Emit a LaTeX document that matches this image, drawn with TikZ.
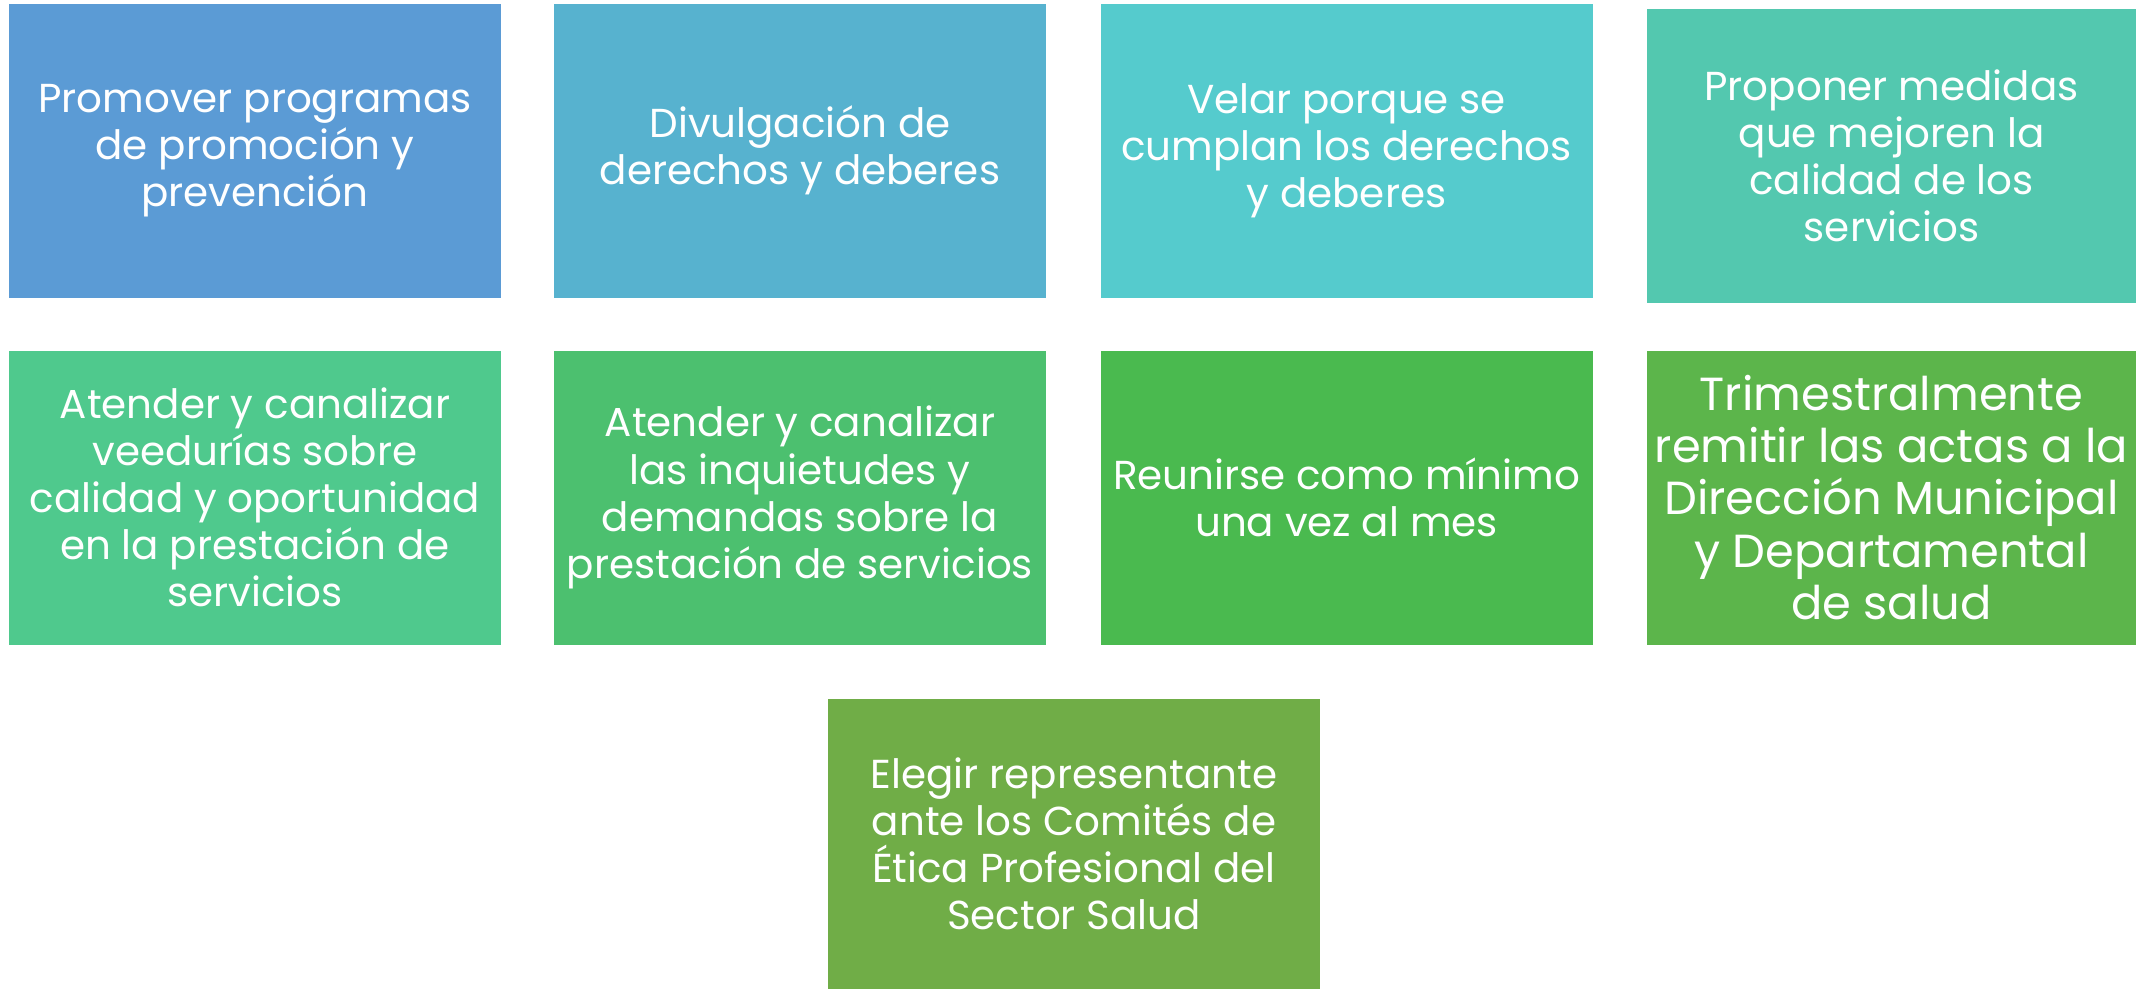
\documentclass[tikz,border=0pt]{standalone}
\usepackage{fontspec}
\setmainfont{Poppins}
\definecolor{cA}{HTML}{5B9BD5}
\definecolor{cB}{HTML}{57B2CF}
\definecolor{cC}{HTML}{55CBCD}
\definecolor{cD}{HTML}{53C8AF}
\definecolor{cE}{HTML}{4FC98D}
\definecolor{cF}{HTML}{4CC06F}
\definecolor{cG}{HTML}{4ABA4F}
\definecolor{cH}{HTML}{5CB54B}
\definecolor{cI}{HTML}{70AD47}
\begin{document}
\begin{tikzpicture}
\useasboundingbox (0,0) rectangle (21.36,9.89);
\tikzset{box/.style={rectangle, inner sep=0pt, minimum width=4.92cm, minimum height=2.94cm, text=white, align=center, font=\fontsize{11.5}{13.4}\selectfont}}
\node[box, fill=cA] (b1) at (2.55,8.385) {Promover programas\\de promoción y\\prevención};
\node[box, fill=cB] (b2) at (8.00,8.385) {Divulgación de\\derechos y deberes};
\node[box, fill=cC] (b3) at (13.465,8.385) {Velar porque se\\cumplan los derechos\\y deberes};
\node[box, fill=cD, minimum width=4.89cm] (b4) at (18.915,8.33) {Proponer medidas\\que mejoren la\\calidad de los\\servicios};
\node[box, fill=cE] (b5) at (2.55,4.915) {Atender y canalizar\\veedurías sobre\\calidad y oportunidad\\en la prestación de\\servicios};
\node[box, fill=cF] (b6) at (8.00,4.915) {Atender y canalizar\\las inquietudes y\\demandas sobre la\\prestación de servicios};
\node[box, fill=cG] (b7) at (13.465,4.915) {Reunirse como mínimo\\una vez al mes};
\node[box, fill=cH, minimum width=4.89cm, font=\fontsize{13.2}{14.9}\selectfont] (b8) at (18.915,4.915) {Trimestralmente\\remitir las actas a la\\Dirección Municipal\\y Departamental\\de salud};
\node[box, fill=cI, minimum height=2.90cm] (b9) at (10.74,1.45) {Elegir representante\\ante los Comités de\\Ética Profesional del\\Sector Salud};
\end{tikzpicture}
\end{document}
